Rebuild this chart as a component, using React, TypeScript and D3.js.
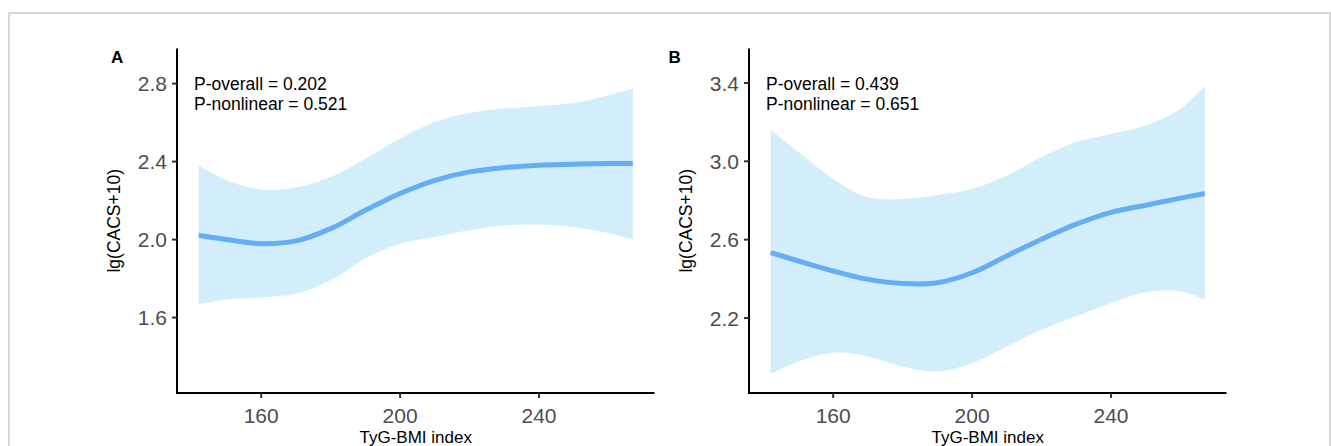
import * as d3 from "d3";

// TyG-BMI index grid the spline was read at
const tygBmi = [142, 150, 160, 170, 180, 190, 200, 210, 220, 230, 240, 250, 260, 267];

// panel A
const fitA = [2.022, 2.0, 1.979, 1.993, 2.056, 2.15, 2.236, 2.304, 2.347, 2.369, 2.381, 2.386, 2.39, 2.39];
const upperA = [2.381, 2.304, 2.256, 2.267, 2.321, 2.415, 2.518, 2.603, 2.649, 2.672, 2.684, 2.7, 2.74, 2.774];
const lowerA = [1.668, 1.692, 1.703, 1.723, 1.791, 1.903, 1.979, 2.013, 2.048, 2.073, 2.077, 2.065, 2.034, 2.0];

// panel B
const fitB = [2.534, 2.491, 2.44, 2.397, 2.376, 2.38, 2.431, 2.517, 2.602, 2.679, 2.739, 2.776, 2.812, 2.836];
const upperB = [3.163, 3.047, 2.91, 2.816, 2.807, 2.828, 2.858, 2.927, 3.021, 3.098, 3.14, 3.183, 3.269, 3.385];
const lowerB = [1.915, 1.978, 2.024, 2.004, 1.952, 1.927, 1.97, 2.055, 2.14, 2.209, 2.277, 2.332, 2.337, 2.294];

const xTicks = [160, 200, 240];
const yTicksA = [1.6, 2.0, 2.4, 2.8];
const yTicksB = [2.2, 2.6, 3.0, 3.4];
const annotA = ["P-overall = 0.202", "P-nonlinear = 0.521"];
const annotB = ["P-overall = 0.439", "P-nonlinear = 0.651"];

const FONT = "'Liberation Sans', Arial, sans-serif";

function Panel({ tag, left, tagX, yDomain, yTicks, fit, upper, lower, annot }) {
  const top = 48.5;
  const bottom = 393;
  const right = left + 477.5;

  const x = d3.scaleLinear().domain([135.75, 273.25]).range([left, right]);
  const y = d3.scaleLinear().domain(yDomain).range([bottom, top]);

  const rows = tygBmi.map((v, i) => ({ v, fit: fit[i], hi: upper[i], lo: lower[i] }));

  const band = d3
    .area()
    .x((d) => x(d.v))
    .y0((d) => y(d.lo))
    .y1((d) => y(d.hi))
    .curve(d3.curveCatmullRom.alpha(0.5));

  const line = d3
    .line()
    .x((d) => x(d.v))
    .y((d) => y(d.fit))
    .curve(d3.curveCatmullRom.alpha(0.5));

  return (
    <g>
      <path d={band(rows)} fill="#d2eefa" />
      <path d={line(rows)} fill="none" stroke="#64aef6" strokeWidth={5} />

      {/* axes */}
      <line x1={left} x2={left} y1={top} y2={bottom + 1} stroke="#000" strokeWidth={2} />
      <line x1={left - 1} x2={right} y1={bottom} y2={bottom} stroke="#000" strokeWidth={2} />

      {yTicks.map((t) => (
        <g key={t}>
          <line x1={left - 5} x2={left} y1={y(t)} y2={y(t)} stroke="#333" strokeWidth={2} />
          <text x={left - 10} y={y(t)} dy="0.36em" textAnchor="end" fontSize={21} fill="#4d4d4d">
            {t.toFixed(1)}
          </text>
        </g>
      ))}
      {xTicks.map((t) => (
        <g key={t}>
          <line x1={x(t)} x2={x(t)} y1={bottom} y2={bottom + 5} stroke="#333" strokeWidth={2} />
          <text x={x(t)} y={423} textAnchor="middle" fontSize={21} fill="#4d4d4d">
            {t}
          </text>
        </g>
      ))}

      <text x={(left + right) / 2} y={443} textAnchor="middle" fontSize={17}>
        TyG-BMI index
      </text>
      <text
        transform={`translate(${left - 57},${(top + bottom) / 2}) rotate(-90)`}
        textAnchor="middle"
        fontSize={17.5}
      >
        lg(CACS+10)
      </text>

      <text x={tagX} y={62.7} fontSize={17} fontWeight="bold">
        {tag}
      </text>
      {annot.map((s, i) => (
        <text key={s} x={left + 17} y={90 + i * 19.5} fontSize={17.5}>
          {s}
        </text>
      ))}
    </g>
  );
}

export default function App() {
  return (
    <div style={{ position: "absolute", left: 0, top: 0 }}>
      <svg width={1331} height={446} style={{ display: "block", fontFamily: FONT }}>
        <rect x={0} y={0} width={1331} height={446} fill="#fff" />
        <rect x={9} y={13} width={1321} height={500} fill="none" stroke="#cacaca" strokeWidth={1.5} />
        <Panel
          tag="A"
          left={177}
          tagX={111}
          yDomain={[1.213, 2.98]}
          yTicks={yTicksA}
          fit={fitA}
          upper={upperA}
          lower={lowerA}
          annot={annotA}
        />
        <Panel
          tag="B"
          left={749}
          tagX={668.6}
          yDomain={[1.817, 3.576]}
          yTicks={yTicksB}
          fit={fitB}
          upper={upperB}
          lower={lowerB}
          annot={annotB}
        />
      </svg>
    </div>
  );
}
